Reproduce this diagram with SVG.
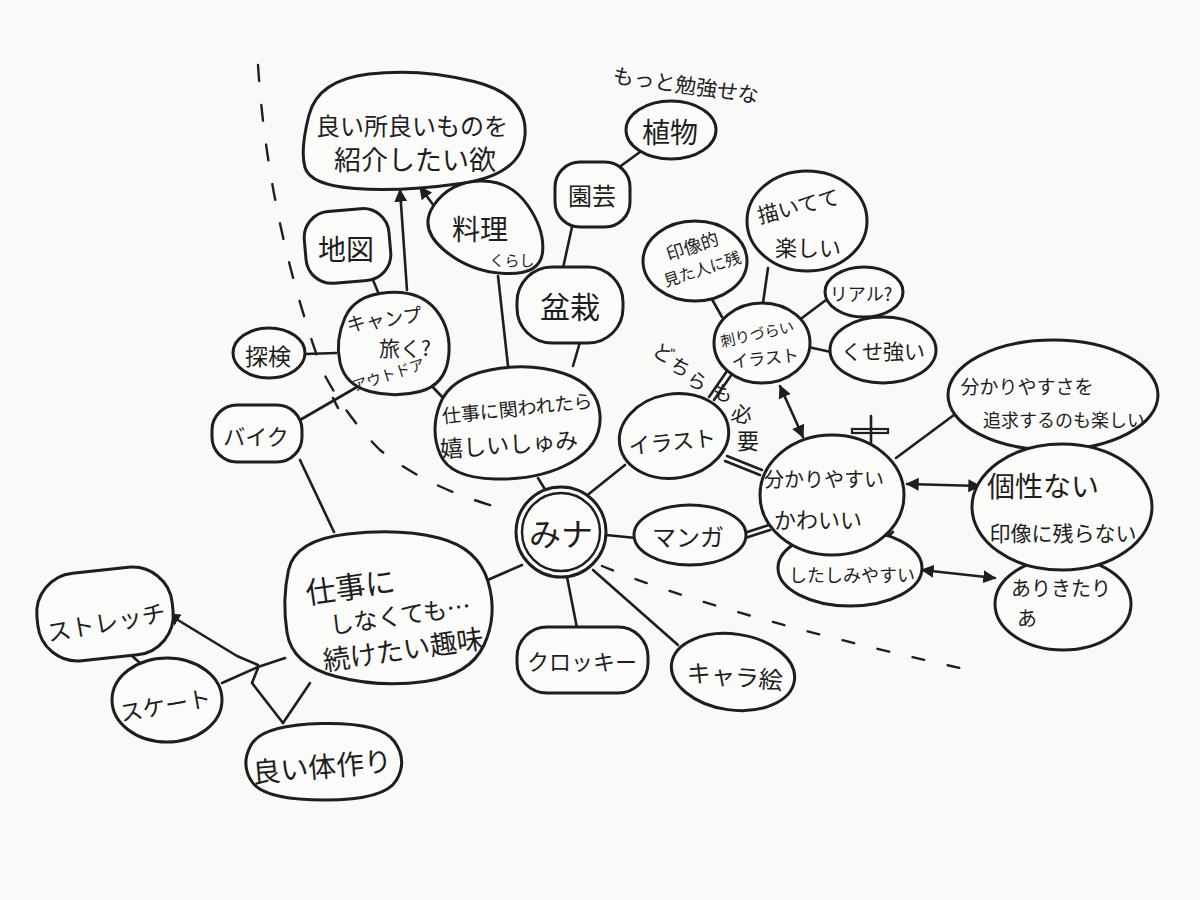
<svg xmlns="http://www.w3.org/2000/svg" width="1200" height="900" viewBox="0 0 1200 900">
<style>
.n{fill:#fbfbf9;stroke:#1e1e1e;stroke-width:3}
.l{fill:none;stroke:#1e1e1e;stroke-width:2.6;stroke-linecap:round;stroke-linejoin:round}
.d{fill:none;stroke:#1e1e1e;stroke-width:2.4;stroke-linecap:round}
.t{font-family:"Noto Sans CJK JP","Noto Sans CJK SC",sans-serif;fill:#1e1e1e;text-anchor:middle;dominant-baseline:central}
</style>
<defs>
<marker id="ah" viewBox="0 0 10 10" refX="9" refY="5" markerUnits="userSpaceOnUse" markerWidth="13" markerHeight="13" orient="auto-start-reverse">
<path d="M0,0 L10,5 L0,10 z" fill="#1e1e1e"/>
</marker>
</defs>
<rect width="1200" height="900" fill="#f9f9f7"/>

<g id="dashes">
<path class="d" d="M258,65 Q268,220 322,370 Q345,415 380,450 Q430,490 508,510" stroke-dasharray="16 24"/>
<path class="d" d="M602,566 Q720,615 978,672" stroke-dasharray="12 24"/>
</g>

<g id="connectors">
<line class="l" x1="640" y1="152" x2="618" y2="168"/>
<line class="l" x1="572" y1="227" x2="563" y2="268"/>
<line class="l" x1="580" y1="342" x2="573" y2="366"/>
<line class="l" x1="498" y1="276" x2="508" y2="366"/>
<line class="l" x1="373" y1="280" x2="380" y2="297"/>
<line class="l" x1="305" y1="354" x2="336" y2="353"/>
<line class="l" x1="357" y1="387" x2="300" y2="420"/>
<line class="l" x1="333" y1="398" x2="338" y2="408"/>
<line class="l" x1="428" y1="382" x2="445" y2="400"/>
<line class="l" x1="538" y1="478" x2="546" y2="491"/>
<line class="l" x1="300" y1="460" x2="334" y2="532"/>
<line class="l" x1="522" y1="565" x2="483" y2="582"/>
<polyline class="l" points="285,658 258,667 222,683"/>
<polyline class="l" points="258,665 237,656 168,614" marker-end="url(#ah)"/>
<polyline class="l" points="258,668 252,683 283,723"/>
<line class="l" x1="310" y1="683" x2="283" y2="723"/>
<line class="l" x1="123" y1="648" x2="140" y2="663"/>
<line class="l" x1="585" y1="497" x2="625" y2="465"/>
<line class="l" x1="606" y1="535" x2="636" y2="538"/>
<line class="l" x1="567" y1="577" x2="577" y2="628"/>
<line class="l" x1="593" y1="570" x2="678" y2="645"/>
<line class="l" x1="722" y1="317" x2="705" y2="287"/>
<line class="l" x1="763" y1="303" x2="768" y2="268"/>
<line class="l" x1="802" y1="318" x2="826" y2="300"/>
<line class="l" x1="808" y1="347" x2="831" y2="352"/>
<line class="l" x1="896" y1="458" x2="958" y2="412"/>
<line class="l" x1="407" y1="290" x2="400" y2="190" marker-end="url(#ah)"/>
<line class="l" x1="437" y1="210" x2="420" y2="187" marker-end="url(#ah)"/>
<line class="l" x1="780" y1="386" x2="803" y2="437" marker-start="url(#ah)" marker-end="url(#ah)"/>
<line class="l" x1="907" y1="484" x2="980" y2="486" marker-start="url(#ah)" marker-end="url(#ah)"/>
<line class="l" x1="922" y1="570" x2="995" y2="578" marker-start="url(#ah)" marker-end="url(#ah)"/>
<line class="l" x1="893" y1="532" x2="877" y2="545" marker-end="url(#ah)"/>
<line class="l" x1="727" y1="456" x2="762" y2="470"/>
<line class="l" x1="725" y1="461" x2="760" y2="475"/>
<line class="l" x1="738" y1="535" x2="769" y2="525"/>
<line class="l" x1="739" y1="540" x2="770" y2="530"/>
<line class="l" x1="709" y1="397" x2="727" y2="371"/>
<line class="l" x1="714" y1="400" x2="732" y2="374"/>
</g>

<g id="marks">
<line class="l" x1="871" y1="416" x2="871" y2="448"/>
<rect x="852" y="429" width="36" height="4" fill="none" stroke="#1e1e1e" stroke-width="2.2"/>
<line class="l" x1="1075" y1="462" x2="1112" y2="463"/>
<line class="l" x1="1078" y1="467" x2="1112" y2="469"/>
</g>

<g id="n-yoi">
<path class="n" d="M305,167.5 Q300,150 309,115 Q318,80 369,74 Q420,68 474,81.5 Q528,95 525,135 Q522,175 461,183.5 Q400,192 355,188.5 Q310,185 305,167.5 Z"/>
<text class="t" x="412" y="124" font-size="24">良い所良いものを</text>
<text class="t" x="415" y="158" font-size="27">紹介したい欲</text>
</g>

<g id="n-motto">
<text class="t" x="686" y="84" font-size="21" transform="rotate(8 686 84)">もっと勉強せな</text>
</g>

<g id="n-shokubutsu">
<ellipse class="n" cx="671" cy="130" rx="45" ry="29"/>
<text class="t" x="670" y="131" font-size="28">植物</text>
</g>

<g id="n-engei">
<rect class="n" x="555" y="162" width="75" height="65" rx="25"/>
<text class="t" x="592" y="194" font-size="24">園芸</text>
</g>

<g id="n-bonsai">
<rect class="n" x="517" y="267" width="106" height="76" rx="35"/>
<text class="t" x="570" y="305" font-size="30">盆栽</text>
</g>

<g id="n-ryouri">
<path class="n" d="M444,250 Q418,228 434,205 Q450,182 480,181 Q510,180 527.5,205 Q545,230 542.5,252.5 Q540,275 505,273.5 Q470,272 444,250 Z"/>
<text class="t" x="480" y="228" font-size="28">料理</text>
<text class="t" x="512" y="259" font-size="15">くらし</text>
</g>

<g id="n-chizu">
<rect class="n" x="305" y="210" width="85" height="72" rx="26" transform="rotate(-5 347 246)"/>
<text class="t" x="346" y="248" font-size="28">地図</text>
</g>

<g id="n-camp">
<path class="n" d="M340,362.5 Q335,340 345,317.5 Q355,295 387.5,292.5 Q420,290 436,310 Q452,330 448.5,357.5 Q445,385 420,391.5 Q395,398 370,391.5 Q345,385 340,362.5 Z"/>
<text class="t" x="384" y="318" font-size="19" transform="rotate(-8 384 318)">キャンプ</text>
<text class="t" x="405" y="347" font-size="21">旅く?</text>
<text class="t" x="388" y="374" font-size="15" transform="rotate(-18 388 374)">アウトドア</text>
</g>

<g id="n-tanken">
<ellipse class="n" cx="269" cy="353" rx="36" ry="25"/>
<text class="t" x="268" y="355" font-size="23">探検</text>
</g>

<g id="n-bike">
<rect class="n" x="212" y="405" width="90" height="57" rx="25"/>
<text class="t" x="256" y="435" font-size="22">バイク</text>
</g>

<g id="n-shigoto-kakawa">
<path class="n" d="M440,454 Q430,430 440,404 Q450,378 490,370 Q530,362 564,373.5 Q598,385 600,415 Q602,445 571,462.5 Q540,480 495,479 Q450,478 440,454 Z"/>
<text class="t" x="517" y="407" font-size="19" transform="rotate(-6 517 407)">仕事に関われたら</text>
<text class="t" x="509" y="443" font-size="23" transform="rotate(-4 509 443)">嬉しいしゅみ</text>
</g>

<g id="n-center">
<circle class="n" cx="561" cy="532" r="45"/>
<circle cx="561" cy="532" r="39" fill="none" stroke="#1e1e1e" stroke-width="2.4"/>
<text class="t" x="561" y="532" font-size="32">みナ</text>
</g>

<g id="n-inshouteki">
<ellipse class="n" cx="695" cy="261" rx="52" ry="40"/>
<text class="t" x="692" y="245" font-size="18" transform="rotate(-18 692 245)">印像的</text>
<text class="t" x="702" y="268" font-size="16" transform="rotate(-18 702 268)">見た人に残</text>
</g>

<g id="n-kaite">
<ellipse class="n" cx="807" cy="221" rx="60" ry="50"/>
<text class="t" x="798" y="205" font-size="21" transform="rotate(-14 798 205)">描いてて</text>
<text class="t" x="808" y="246" font-size="22">楽しい</text>
</g>

<g id="n-real">
<ellipse class="n" cx="864" cy="292" rx="39" ry="25"/>
<text class="t" x="861" y="293" font-size="18">リアル?</text>
</g>

<g id="n-kuse">
<ellipse class="n" cx="883" cy="350" rx="53" ry="33"/>
<text class="t" x="883" y="350" font-size="21">くせ強い</text>
</g>

<g id="n-sashi">
<ellipse class="n" cx="762" cy="343" rx="48" ry="40"/>
<text class="t" x="757" y="333" font-size="15" transform="rotate(-12 757 333)">刺りづらい</text>
<text class="t" x="765" y="357" font-size="17" transform="rotate(-6 765 357)">イラスト</text>
</g>

<g id="n-dochira">
<text class="t" x="664" y="352" font-size="20" transform="rotate(30 664 352)">ど</text>
<text class="t" x="681" y="366" font-size="20" transform="rotate(30 681 366)">ち</text>
<text class="t" x="698" y="380" font-size="20" transform="rotate(30 698 380)">ら</text>
<text class="t" x="723" y="392" font-size="20" transform="rotate(15 723 392)">も</text>
<text class="t" x="742" y="413" font-size="21" transform="rotate(10 742 413)">必</text>
<text class="t" x="748" y="439" font-size="22">要</text>
</g>

<g id="n-illust">
<ellipse class="n" cx="674" cy="436" rx="55" ry="42" transform="rotate(-10 674 436)"/>
<text class="t" x="672" y="440" font-size="22" transform="rotate(-6 672 440)">イラスト</text>
</g>

<g id="n-manga">
<ellipse class="n" cx="690" cy="535" rx="56" ry="30"/>
<text class="t" x="688" y="535" font-size="24">マンガ</text>
</g>

<g id="n-shitashimi">
<ellipse class="n" cx="850" cy="568" rx="72" ry="38"/>
<text class="t" x="852" y="574" font-size="18">したしみやすい</text>
</g>

<g id="n-wakari">
<ellipse class="n" cx="832" cy="495" rx="72" ry="60"/>
<text class="t" x="824" y="478" font-size="20">分かりやすい</text>
<text class="t" x="818" y="518" font-size="22">かわいい</text>
</g>

<g id="n-tsuikyu">
<ellipse class="n" cx="1053" cy="395" rx="105" ry="55"/>
<text class="t" x="1027" y="385" font-size="19">分かりやすさを</text>
<text class="t" x="1064" y="419" font-size="18">追求するのも楽しい</text>
</g>

<g id="n-arikitari">
<ellipse class="n" cx="1063" cy="604" rx="68" ry="46"/>
<text class="t" x="1061" y="587" font-size="20">ありきたり</text>
<text class="t" x="1027" y="617" font-size="20">あ</text>
</g>

<g id="n-kosei">
<ellipse class="n" cx="1062" cy="507" rx="90" ry="63"/>
<text class="t" x="1043" y="485" font-size="28">個性ない</text>
<text class="t" x="1063" y="532" font-size="21">印像に残らない</text>
</g>

<g id="n-shigoto-shinakute">
<path class="n" d="M287,632.5 Q282,600 288.5,570 Q295,540 347.5,534 Q400,528 439,538 Q478,548 488,581.5 Q498,615 484,645 Q470,675 425,681.5 Q380,688 336,676.5 Q292,665 287,632.5 Z"/>
<text class="t" x="350" y="585" font-size="30" transform="rotate(-8 350 585)">仕事に</text>
<text class="t" x="400" y="614" font-size="24" transform="rotate(-8 400 614)">しなくても…</text>
<text class="t" x="403" y="648" font-size="27" transform="rotate(-8 403 648)">続けたい趣味</text>
</g>

<g id="n-stretch">
<rect class="n" x="37" y="570" width="136" height="88" rx="40" transform="rotate(-6 105 614)"/>
<text class="t" x="106" y="621" font-size="24" transform="rotate(-10 106 621)">ストレッチ</text>
</g>

<g id="n-skate">
<ellipse class="n" cx="167" cy="700" rx="55" ry="42"/>
<text class="t" x="165" y="704" font-size="23" transform="rotate(-10 165 704)">スケート</text>
</g>

<g id="n-karada">
<path class="n" d="M252.5,782.5 Q240,765 251,745 Q262,725 321,723.5 Q380,722 394,741 Q408,760 396.5,780 Q385,800 325,800 Q265,800 252.5,782.5 Z"/>
<text class="t" x="322" y="765" font-size="28" transform="rotate(-5 322 765)">良い体作り</text>
</g>

<g id="n-croquis">
<rect class="n" x="517" y="627" width="131" height="66" rx="30"/>
<text class="t" x="582" y="660" font-size="22">クロッキー</text>
</g>

<g id="n-chara">
<ellipse class="n" cx="733" cy="672" rx="62" ry="38" transform="rotate(8 733 672)"/>
<text class="t" x="735" y="675" font-size="24" transform="rotate(5 735 675)">キャラ絵</text>
</g>
</svg>
